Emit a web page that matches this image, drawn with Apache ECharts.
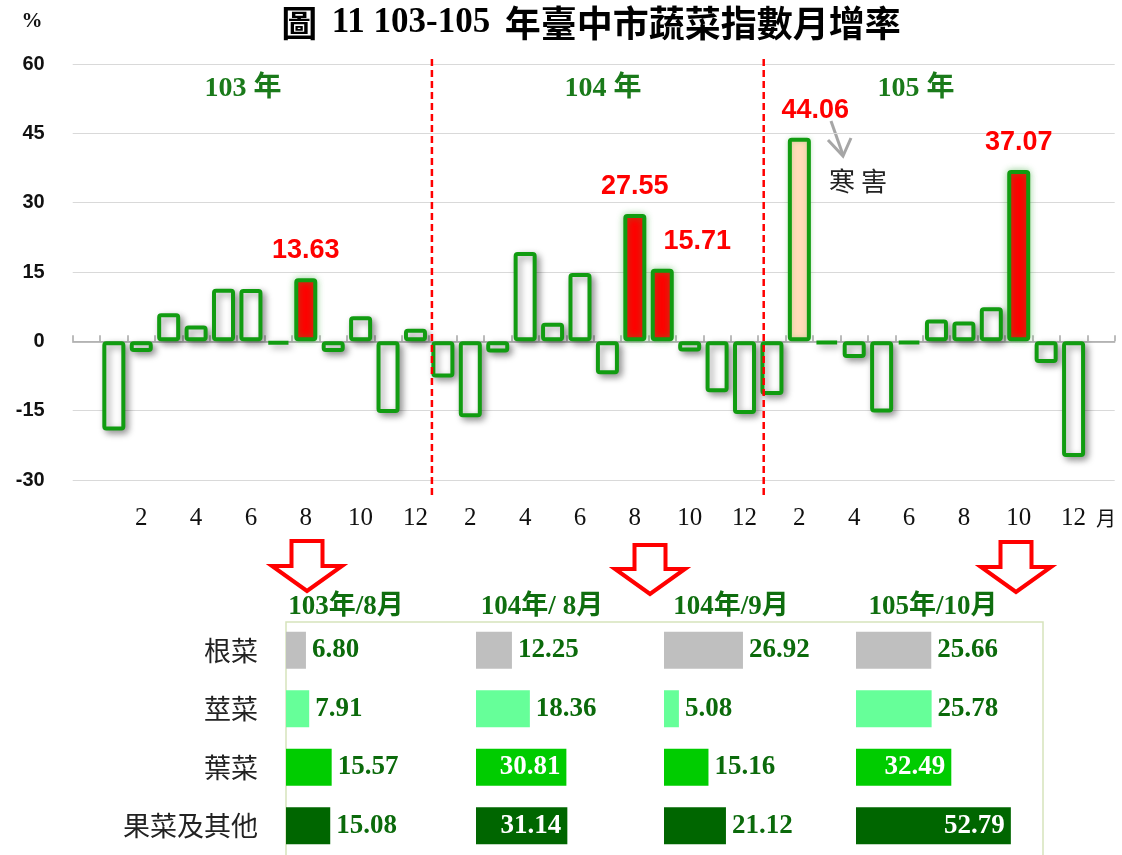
<!DOCTYPE html>
<html>
<head>
<meta charset="utf-8">
<title>臺中市蔬菜指數月增率</title>
<script src="https://cdn.jsdelivr.net/npm/echarts@6/dist/echarts.min.js"></script>
<style>
  html, body { margin: 0; padding: 0; background: #fff; }
  #main { width: 1122px; height: 855px; }
</style>
</head>
<body>
<div id="main"></div>
<script>
// 月增率 (%)
const years = ['103', '104', '105']
const months = [1, 2, 3, 4, 5, 6, 7, 8, 9, 10, 11, 12]
const rate103 = [-19.3, -2.3, 6.1, 3.4, 11.4, 11.3, -0.6, 13.63, -2.3, 5.4, -15.5, 2.7]
const rate104 = [-7.8, -16.4, -2.4, 19.3, 4.0, 14.8, -7.1, 27.55, 15.71, -2.2, -11.0, -15.7]
const rate105 = [-11.6, 44.06, -0.5, -3.6, -15.4, -0.5, 4.7, 4.3, 7.4, 37.07, -4.7, -25.0]
const redMonths = ['103-8', '104-8', '104-9', '105-10']
const frostMonth = '105-2'

// 各類蔬菜月增率
const kinds = ['根菜', '莖菜', '葉菜', '果菜及其他']
const periods = ['103年/8月', '104年/ 8月', '104年/9月', '105年/10月']
const rootVeg = [6.80, 12.25, 26.92, 25.66]
const stemVeg = [7.91, 18.36, 5.08, 25.78]
const leafVeg = [15.57, 30.81, 15.16, 32.49]
const fruitVeg = [15.08, 31.14, 21.12, 52.79]

const serif = '"Liberation Serif", "Noto Sans CJK TC", serif'
const green = '#1a7a1a'

const chart = echarts.init(document.getElementById('main'))

// 前後各留一格空白
const cats = ['', ...years.flatMap(y => months.map(m => y + '-' + m)), ' ']
const rates = [null, ...rate103, ...rate104, ...rate105, null]
const labelOffset = { '104-9': [35, 0], '105-2': [16, 0] }

const barData = cats.map((c, i) => {
  const item = { value: rates[i] }
  if (redMonths.includes(c) || c === frostMonth) {
    const frost = c === frostMonth
    item.itemStyle = {
      color: frost ? '#ffdcb8' : '#ff0000',
      shadowColor: frost ? 'rgba(60,170,60,0.25)' : 'rgba(60,170,60,0.45)',
      shadowOffsetX: 0, shadowOffsetY: 0, shadowBlur: frost ? 5 : 7
    }
    item.label = { show: true, offset: labelOffset[c] || [0, 0] }
  }
  return item
})

const rows = [rootVeg, stemVeg, leafVeg, fruitVeg]
const rowColors = ['#bfbfbf', '#66ff99', '#00cc00', '#006600']
const colLeft = [286, 476, 664, 856]

const grids = [{ left: 72.7, top: 64, width: 1042, height: 416 }]
const xAxes = [
  {
    type: 'category', gridIndex: 0, data: cats, position: 'bottom',
    axisLine: { show: false, onZero: false }, axisTick: { show: false },
    axisLabel: {
      interval: 0, margin: 26, fontFamily: serif, fontSize: 25, color: '#111',
      formatter: v => {
        const m = Number(String(v).split('-')[1])
        return m % 2 === 0 ? String(m) : ''
      }
    }
  },
  {
    type: 'category', gridIndex: 0, data: cats, position: 'bottom',
    axisLine: { show: true, onZero: true, lineStyle: { color: '#a6a6a6', width: 1.5 } },
    axisTick: { show: true, inside: true, length: 6, interval: 0, lineStyle: { color: '#a6a6a6', width: 1.5 } },
    axisLabel: { show: false }
  },
  { type: 'value', gridIndex: 0, min: 0, max: cats.length, show: false, position: 'top' }
]
const yAxes = [{
  type: 'value', gridIndex: 0, min: -30, max: 60, interval: 15,
  axisLine: { show: false }, axisTick: { show: false },
  splitLine: { lineStyle: { color: '#d9d9d9', width: 1.2 } },
  axisLabel: { margin: 28, fontFamily: 'Liberation Sans', fontWeight: 'bold', fontSize: 20, color: '#111' }
}]
const series = [{
  type: 'bar', xAxisIndex: 0, yAxisIndex: 0, data: barData, barWidth: 23,
  itemStyle: {
    color: '#ffffff', borderColor: '#119c11', borderWidth: 4, borderRadius: 2,
    shadowBlur: 7, shadowColor: 'rgba(0,0,0,0.38)', shadowOffsetX: 3, shadowOffsetY: 3
  },
  label: {
    show: false, position: 'top', distance: 14, color: '#ff0000',
    fontFamily: 'Liberation Sans', fontWeight: 'bold', fontSize: 27
  }
}]

// 下方各類蔬菜小表：每欄一個 grid
periods.forEach((p, j) => {
  grids.push({ left: colLeft[j], top: 621, width: 176, height: 236 })
  const xi = xAxes.length
  xAxes.push({ type: 'value', gridIndex: j + 1, min: 0, max: 60, show: false })
  const yi = yAxes.length
  yAxes.push({
    type: 'category', gridIndex: j + 1, data: kinds, inverse: true,
    axisLine: { show: false }, axisTick: { show: false }, splitLine: { show: false },
    axisLabel: {
      show: j === 0, margin: 28, fontFamily: '"Noto Sans CJK TC"', fontSize: 27, color: '#222'
    }
  })
  series.push({
    type: 'bar', xAxisIndex: xi, yAxisIndex: yi, barWidth: 37,
    data: rows.map((r, i) => {
      const inside = r[j] > 30
      return {
        value: r[j],
        itemStyle: { color: rowColors[i] },
        label: {
          position: inside ? 'insideRight' : 'right',
          color: inside ? '#ffffff' : '#0b6a0b'
        }
      }
    }),
    label: {
      show: true, distance: 6, fontFamily: serif, fontWeight: 'bold', fontSize: 27,
      formatter: p => Number(p.value).toFixed(2)
    }
  })
})

function downArrow(cx, top, tip) {
  const s = 15.5, h = 35, neck = tip - 25
  return [[cx - s, top], [cx + s, top], [cx + s, neck], [cx + h, neck], [cx, tip], [cx - h, neck], [cx - s, neck]]
}

const graphic = [
  {
    type: 'text', x: 591, y: 23,
    style: {
      text: '{c|圖}  {a|11 103-105}  {c|年臺中市蔬菜指數月增率}',
      align: 'center', verticalAlign: 'middle', fill: '#000',
      font: 'bold 29px ' + serif,
      rich: {
        a: { fontFamily: serif, fontWeight: 'bold', fontSize: 35, fill: '#000' },
        c: { fontFamily: '"Noto Sans CJK TC"', fontWeight: 'bold', fontSize: 36, fill: '#000' }
      }
    }
  },
  { type: 'text', x: 32, y: 22, style: { text: '%', align: 'center', verticalAlign: 'middle', font: 'bold 21px ' + serif, fill: '#111' } },
  { type: 'text', x: 1106, y: 518, style: { text: '月', align: 'center', verticalAlign: 'middle', font: '20px "Noto Sans CJK TC"', fill: '#111' } },
  { type: 'text', x: 858, y: 181, style: { text: '寒 害', align: 'center', verticalAlign: 'middle', font: '26px "Noto Sans CJK TC"', fill: '#222' } },
  { type: 'line', shape: { x1: 831, y1: 121, x2: 843, y2: 155 }, style: { stroke: '#a6a6a6', lineWidth: 3 } },
  { type: 'polyline', shape: { points: [[828, 140], [843, 156], [851, 138]] }, style: { stroke: '#a6a6a6', lineWidth: 3, fill: null } },
  {
    type: 'rect', z: -1, shape: { x: 286, y: 622, width: 757, height: 240 },
    style: { fill: null, stroke: '#d6e3bc', lineWidth: 1.5 }
  }
]
const yearX = [243, 603, 916]
years.forEach((y, i) => {
  graphic.push({
    type: 'text', x: yearX[i], y: 89,
    style: { text: y + ' 年', align: 'center', verticalAlign: 'middle', font: 'bold 28px ' + serif, fill: green }
  })
})
const headX = [346, 542, 731, 933]
periods.forEach((p, j) => {
  graphic.push({
    type: 'text', x: headX[j], y: 607,
    style: { text: p, align: 'center', verticalAlign: 'middle', font: 'bold 27px ' + serif, fill: '#0f6e0f' }
  })
})
const arrows = [[307, 541, 591], [650, 545, 594], [1016, 542, 592]]
arrows.forEach(a => {
  graphic.push({
    type: 'polygon', shape: { points: downArrow(a[0], a[1], a[2]) },
    style: { fill: '#fff', stroke: '#ff0000', lineWidth: 4, lineJoin: 'miter' }
  })
})

chart.setOption({
  animation: false,
  backgroundColor: '#fff',
  grid: grids,
  xAxis: xAxes,
  yAxis: yAxes,
  series: series,
  graphic: graphic
})

// 年度分隔虛線
const dividers = [13.1, 25.2].map(v => {
  const x = chart.convertToPixel({ xAxisIndex: 2 }, v)
  return {
    type: 'line', shape: { x1: x, y1: 59, x2: x, y2: 495 },
    style: { stroke: '#ff0000', lineWidth: 2.5, lineDash: [7, 4] }, z: 10
  }
})
chart.setOption({ graphic: graphic.concat(dividers) })
</script>
</body>
</html>
